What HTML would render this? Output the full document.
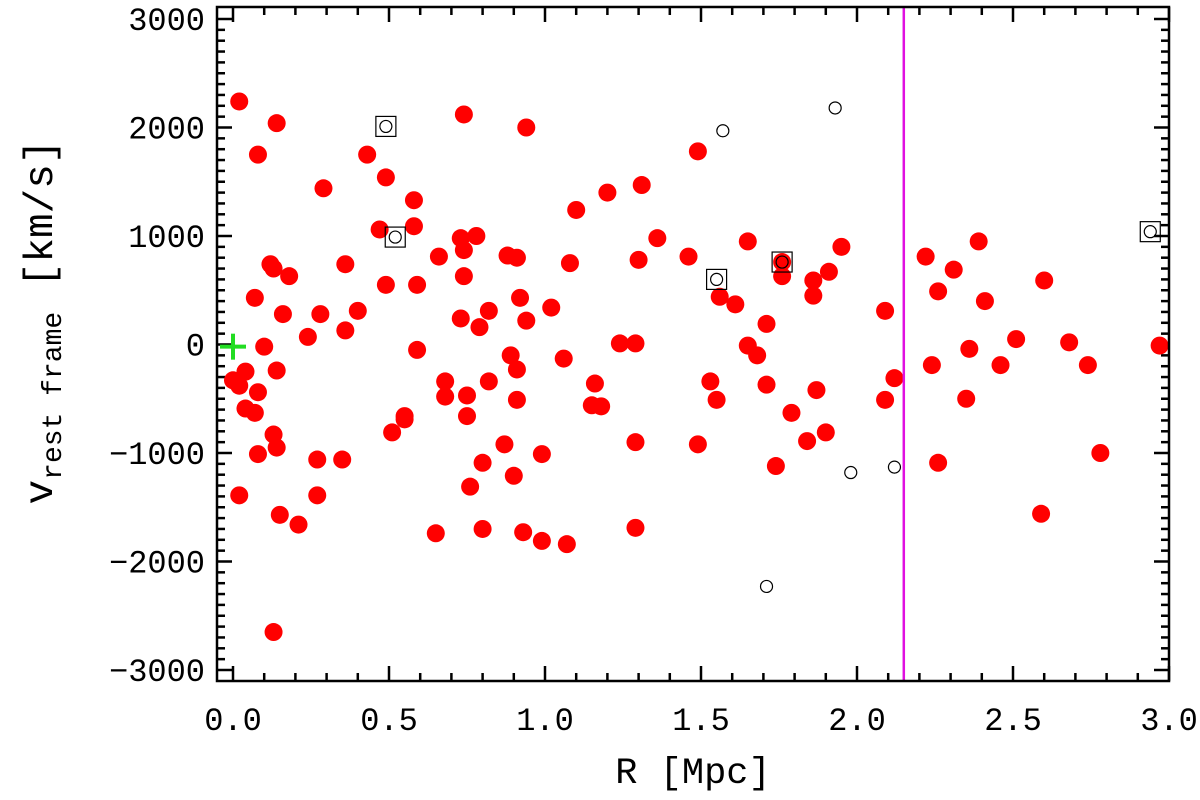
<!DOCTYPE html>
<html><head><meta charset="utf-8"><style>
body{margin:0;background:#fff}
svg{display:block}
text{font-family:"Liberation Mono",monospace;fill:#000}
</style></head><body>
<svg id="c" width="1200" height="800" viewBox="0 0 1200 800"></svg>
<script>
const rRed=[.02,.14,.08,.00,.02,.04,.04,.07,.02,.07,.10,.08,.08,.12,.13,.18,.16,.13,.14,.14,.15,.13,.21,.24,.29,.28,.27,.27,.35,.36,.36,.40,.43,.47,.49,.49,.51,.55,.55,.58,.58,.59,.59,.65,.66,.68,.68,.74,.73,.73,.74,.74,.75,.75,.76,.78,.79,.80,.80,.82,.82,.87,.88,.89,.90,.91,.91,.91,.92,.93,.94,.94,.99,1.02,.99,1.06,1.07,1.08,1.10,1.15,1.18,1.16,1.20,1.24,1.29,1.29,1.29,1.30,1.31,1.36,1.46,1.49,1.49,1.53,1.55,1.56,1.61,1.65,1.65,1.68,1.71,1.71,1.74,1.76,1.76,1.79,1.84,1.86,1.86,1.87,1.90,1.91,1.95,2.09,2.09,2.12,2.22,2.24,2.26,2.26,2.31,2.35,2.39,2.41,2.36,2.46,2.51,2.60,2.59,2.68,2.74,2.78,2.97];
const vRed=[2240,2040,1750,-330,-380,-590,-250,-630,-1390,430,-20,-440,-1010,740,700,630,280,-830,-950,-240,-1570,-2650,-1660,70,1440,280,-1060,-1390,-1060,740,130,310,1750,1060,1540,550,-810,-660,-690,1330,1090,-50,550,-1740,810,-340,-480,2120,240,980,630,870,-660,-470,-1310,1000,160,-1090,-1700,310,-340,-920,820,-100,-1210,800,-510,-230,430,-1730,220,2000,-1010,340,-1810,-130,-1840,750,1240,-560,-570,-360,1400,10,10,-900,-1690,780,1470,980,810,-920,1780,-340,-510,440,370,950,-10,-100,190,-370,-1120,760,630,-630,-890,450,590,-420,-810,670,900,310,-510,-310,810,-190,490,-1090,690,-500,950,400,-40,-190,50,590,-1560,20,-190,-1000,-10];
const rOpen=[.49,.52,1.57,1.55,1.76,1.93,1.98,1.71,2.12,2.94];
const vOpen=[2010,990,1970,600,760,2180,-1180,-2230,-1130,1040];
const boxed=[1,1,0,1,1,0,0,0,0,1];
const xTicks=["0.0","0.5","1.0","1.5","2.0","2.5","3.0"];
const xTickVals=[0,0.5,1,1.5,2,2.5,3];
const yTickVals=[-3000,-2000,-1000,0,1000,2000,3000];
const yTicks=["\u22123000","\u22122000","\u22121000","0","1000","2000","3000"];
const rLimit=2.15;
const center=[0.0,-20];

const NS="http://www.w3.org/2000/svg";
const svg=document.getElementById('c');
const L=217,R=1169,T=7,B=681;
const X=r=>233+r*312;
const Y=v=>344.5-v*0.1085;
function mk(tag,at,parent){const e=document.createElementNS(NS,tag);for(const k in at)e.setAttribute(k,at[k]);(parent||svg).appendChild(e);return e;}

const g=mk('g',{stroke:'#000','stroke-width':2.5});


for(let i=0;i<=30;i++){const x=X(i*0.1);const len=(i%5==0)?15:8;
 mk('line',{x1:x,y1:B,x2:x,y2:B-len},g);mk('line',{x1:x,y1:T,x2:x,y2:T+len},g);}
for(let v=-3000;v<=3000;v+=100){const y=Y(v);const len=(v%1000==0)?15:8;
 mk('line',{x1:L,y1:y,x2:L+len,y2:y},g);mk('line',{x1:R,y1:y,x2:R-len,y2:y},g);}

rRed.forEach((r,i)=>{const c=mk('circle',{cx:X(r),cy:Y(vRed[i]),r:9,fill:'#f00'});

});
rOpen.forEach((r,i)=>{const c=mk('circle',{cx:X(r),cy:Y(vOpen[i]),r:6,fill:'none',stroke:'#000','stroke-width':1.2});


if(boxed[i]){const s=mk('rect',{x:X(r)-10,y:Y(vOpen[i])-10,width:20,height:20,fill:'none',stroke:'#000','stroke-width':1.2});

}});
const ml=mk('line',{x1:X(rLimit),y1:T,x2:X(rLimit),y2:B,stroke:'#e010e0','stroke-width':2.5});


const cg=mk('g',{stroke:'#22dd22','stroke-width':4});


mk('line',{x1:X(center[0])-13,y1:Y(center[1]),x2:X(center[0])+13,y2:Y(center[1])},cg);
mk('line',{x1:X(center[0]),y1:Y(center[1])-13,x2:X(center[0]),y2:Y(center[1])+13},cg);

const fr=mk('rect',{x:L,y:T,width:R-L,height:B-T,fill:'none',stroke:'#000','stroke-width':2.5});



xTickVals.forEach((v,i)=>{const t=mk('text',{x:X(v),y:730,'font-size':32,'text-anchor':'middle'});t.textContent=xTicks[i];

});
yTickVals.forEach((v,i)=>{const t=mk('text',{x:205,y:Y(v)+11,'font-size':32,'text-anchor':'end'});t.textContent=yTicks[i];

});
const xt=mk('text',{x:693,y:783,'font-size':37,'text-anchor':'middle'});xt.textContent='R [Mpc]';


const yt=mk('text',{transform:'translate(52,322) rotate(-90)','font-size':41,'text-anchor':'middle'});


const t1=mk('tspan',{},yt);t1.textContent='v';
const t2=mk('tspan',{'font-size':28,dy:9},yt);t2.textContent='rest frame';
const t3=mk('tspan',{dy:-9},yt);t3.textContent=' [km/s]';
</script>
</body></html>
